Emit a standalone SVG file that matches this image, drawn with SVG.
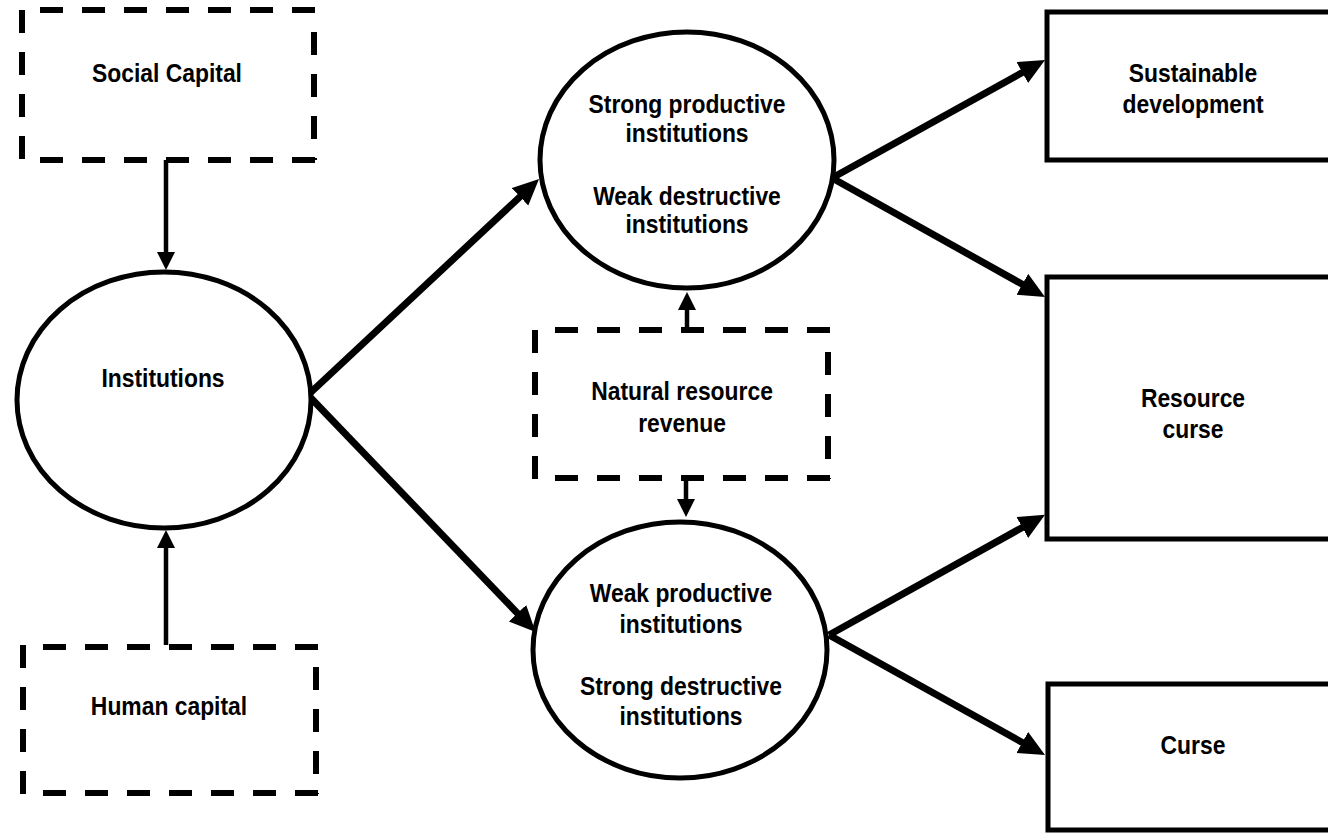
<svg xmlns="http://www.w3.org/2000/svg" width="1328" height="833" viewBox="0 0 1328 833">
<style>
  .lbl { font-family: "Liberation Sans", Arial, sans-serif; font-weight: bold; font-size: 26px; fill: #000; text-anchor: middle; }
  .dash { fill: none; stroke: #000; stroke-width: 6; stroke-dasharray: 23 19; stroke-linecap: butt; }
  .solid { fill: #fff; stroke: #000; stroke-width: 5; }
  .thin { fill: none; stroke: #000; stroke-width: 4.5; marker-end: url(#headThin); }
  .thick { fill: none; stroke: #000; stroke-width: 7; marker-end: url(#headThick); }
</style>
<defs>
  <marker id="headThin" markerUnits="userSpaceOnUse" markerWidth="20" markerHeight="20" refX="9" refY="9" orient="auto">
    <path d="M0,0 L18,9 L0,18 z" fill="#000"/>
  </marker>
  <marker id="headThick" markerUnits="userSpaceOnUse" markerWidth="28" markerHeight="26" refX="15" refY="12" orient="auto">
    <path d="M0,0 L26,12 L0,24 z" fill="#000"/>
  </marker>
</defs>
<rect width="1328" height="833" fill="#fff"/>

<g id="connectors">
  <line class="thin" x1="166" y1="160" x2="166" y2="261"/>
  <line class="thin" x1="166" y1="645" x2="166" y2="539"/>
  <line class="thin" x1="687" y1="330" x2="687" y2="301"/>
  <line class="thin" x1="686" y1="478" x2="686" y2="508"/>
  <line class="thick" x1="308" y1="395" x2="531" y2="186.5"/>
  <line class="thick" x1="308" y1="395" x2="527.9" y2="624.1"/>
  <line class="thick" x1="832" y1="178" x2="1035.4" y2="65.3"/>
  <line class="thick" x1="832" y1="178" x2="1035.4" y2="291.6"/>
  <line class="thick" x1="829" y1="635" x2="1035.4" y2="520.2"/>
  <line class="thick" x1="829" y1="635" x2="1035.4" y2="749.7"/>
</g>

<g id="social-capital">
  <path class="dash" d="M40,10 H316 M22,10 V160 M314,32 V160 M40,160 H316"/>
  <g transform="translate(167 0) scale(0.88 1)"><text class="lbl" x="0" y="82">Social Capital</text></g>
</g>

<g id="human-capital">
  <path class="dash" d="M43,647 H318 M23,645 V794 M316,667 V794 M43,793 H318"/>
  <g transform="translate(169 0) scale(0.88 1)"><text class="lbl" x="0" y="715">Human capital</text></g>
</g>

<g id="natural-resource-revenue">
  <path class="dash" d="M555,330 H830 M535,330 V479 M828,352 V479 M555,478 H830"/>
  <g transform="translate(682 0) scale(0.88 1)">
    <text class="lbl" x="0" y="400">Natural resource</text>
    <text class="lbl" x="0" y="432">revenue</text>
  </g>
</g>

<g id="institutions">
  <ellipse class="solid" cx="164" cy="400" rx="147" ry="128"/>
  <g transform="translate(163 0) scale(0.88 1)"><text class="lbl" x="0" y="387">Institutions</text></g>
</g>

<g id="strong-productive">
  <ellipse class="solid" cx="687" cy="160" rx="147" ry="128"/>
  <g transform="translate(687 0) scale(0.88 1)">
    <text class="lbl" x="0" y="113">Strong productive</text>
    <text class="lbl" x="0" y="142">institutions</text>
    <text class="lbl" x="0" y="205">Weak destructive</text>
    <text class="lbl" x="0" y="233">institutions</text>
  </g>
</g>

<g id="weak-productive">
  <ellipse class="solid" cx="680" cy="650" rx="147" ry="128"/>
  <g transform="translate(681 0) scale(0.88 1)">
    <text class="lbl" x="0" y="602">Weak productive</text>
    <text class="lbl" x="0" y="633">institutions</text>
    <text class="lbl" x="0" y="695">Strong destructive</text>
    <text class="lbl" x="0" y="725">institutions</text>
  </g>
</g>

<g id="sustainable-development">
  <rect class="solid" x="1047" y="12" width="300" height="148"/>
  <g transform="translate(1193 0) scale(0.88 1)">
    <text class="lbl" x="0" y="82">Sustainable</text>
    <text class="lbl" x="0" y="113">development</text>
  </g>
</g>

<g id="resource-curse">
  <rect class="solid" x="1047" y="277" width="300" height="262"/>
  <g transform="translate(1193 0) scale(0.88 1)">
    <text class="lbl" x="0" y="407">Resource</text>
    <text class="lbl" x="0" y="438">curse</text>
  </g>
</g>

<g id="curse">
  <rect class="solid" x="1048" y="684" width="300" height="146"/>
  <g transform="translate(1193 0) scale(0.88 1)"><text class="lbl" x="0" y="754">Curse</text></g>
</g>
</svg>
